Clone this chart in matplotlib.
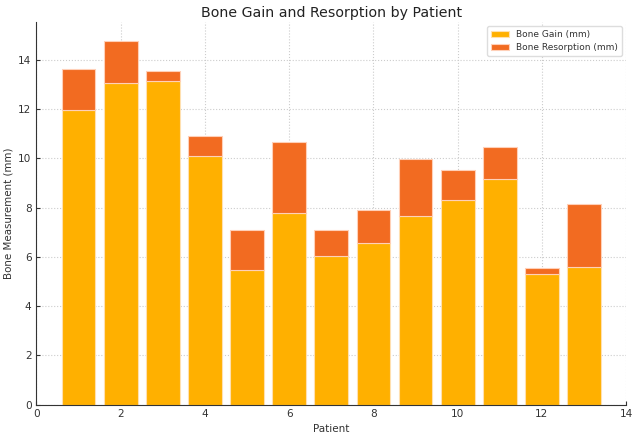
import matplotlib
matplotlib.use("Agg")
import matplotlib.pyplot as plt
import numpy as np

patients = list(range(1, 14))
bone_gain = [11.97, 13.06, 13.15, 10.10, 5.45, 7.80, 6.02, 6.58, 7.66, 8.30, 9.15, 5.29, 5.57]
bone_resorption = [1.66, 1.71, 0.42, 0.81, 1.64, 2.88, 1.09, 1.31, 2.33, 1.24, 1.31, 0.27, 2.59]

plt.rcParams['font.family'] = ['DejaVu Sans']
fig = plt.figure(figsize=(6.39, 4.36), dpi=100)
ax = fig.add_axes([0.057, 0.072, 0.923, 0.878])

ax.bar(patients, bone_gain, width=0.8, color='#FFB000', edgecolor='#FFE0B0', linewidth=0.8,
       label='Bone Gain (mm)', zorder=2)
ax.bar(patients, bone_resorption, width=0.8, bottom=bone_gain, color='#F26B21',
       edgecolor='#FFD0B8', linewidth=0.8, label='Bone Resorption (mm)', zorder=2)

ax.set_xlim(0, 14)
ax.set_ylim(0, 15.55)
ax.set_xticks(range(0, 15, 2))
ax.set_yticks(range(0, 15, 2))
ax.grid(True, color='#cccccc', linestyle=':', linewidth=0.8, zorder=0)
ax.set_axisbelow(True)
for s in ['top', 'right']:
    ax.spines[s].set_visible(False)
for s in ['left', 'bottom']:
    ax.spines[s].set_color('#333333')
ax.tick_params(direction='in', colors='#333333', labelsize=7.6, length=3, pad=3.5)

ax.set_title('Bone Gain and Resorption by Patient', fontsize=10.2, color='#222222', pad=3.5)
ax.set_xlabel('Patient', fontsize=7.5, color='#333333', labelpad=3)
ax.set_ylabel('Bone Measurement (mm)', fontsize=7.4, color='#333333', labelpad=3.5)
leg = ax.legend(loc='upper right', fontsize=6.5, framealpha=1, edgecolor='#dddddd')
for t in leg.get_texts():
    t.set_color('#333333')

fig.savefig('out.png', dpi=100)
